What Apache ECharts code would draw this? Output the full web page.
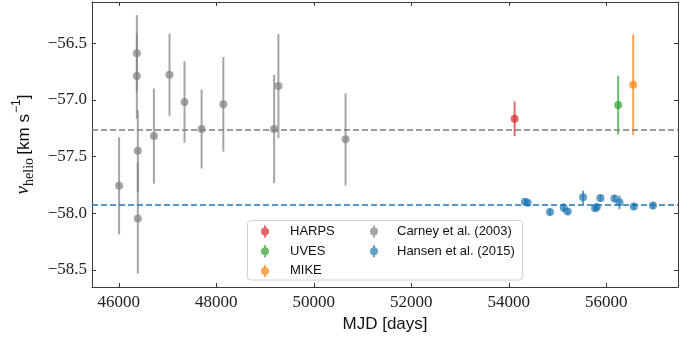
<!DOCTYPE html>
<html>
<head>
<meta charset="utf-8">
<script src="https://cdn.jsdelivr.net/npm/echarts@6/dist/echarts.min.js"></script>
<style>html,body{margin:0;padding:0;background:#fff}#c{width:697px;height:338px}</style>
</head>
<body>
<div id="c"></div>
<script>
// ---- data ----
const xTicks = [46000, 48000, 50000, 52000, 54000, 56000];
const yTicks = [-58.5, -58.0, -57.5, -57.0, -56.5];

const carneyMJD = [46006, 46370, 46370, 46390, 46390, 46720, 47040, 47348, 47698, 48144, 49186, 49274, 50651];
const carneyV   = [-57.757, -56.588, -56.789, -57.448, -58.045, -57.318, -56.777, -57.018, -57.256, -57.038, -57.256, -56.877, -57.347];
const carneyErr = [0.428, 0.338, 0.375, 0.359, 0.488, 0.419, 0.362, 0.359, 0.349, 0.417, 0.477, 0.459, 0.406];

const hansenMJD = [54331, 54386, 54844, 55126, 55208, 55523, 55770, 55805, 55879, 56167, 56269, 56565, 56956];
const hansenV   = [-57.898, -57.907, -57.989, -57.951, -57.983, -57.859, -57.954, -57.945, -57.865, -57.868, -57.903, -57.939, -57.930];
const hansenErr = [0.03, 0.03, 0.03, 0.04, 0.03, 0.06, 0.03, 0.03, 0.03, 0.03, 0.06, 0.03, 0.03];

const harpsMJD = [54119], harpsV = [-57.165], harpsErr = [0.152];
const uvesMJD  = [56243], uvesV  = [-57.045], uvesErr  = [0.259];
const mikeMJD  = [56551], mikeV  = [-56.865], mikeErr  = [0.444];

const carneyMean = -57.256;
const hansenMean = -57.918;

// ---- helpers ----
function pts(xs, ys, es) { return xs.map((x, i) => [x, ys[i], es[i]]); }
const C = { harps: '#d62728', uves: '#2ca02c', mike: '#ff7f0e', carney: '#7f7f7f', hansen: '#1f77b4' };

function errSeries(name, data, color) {
  return {
    name: name + '_err', type: 'custom', data: data, encode: { x: 0, y: 1 }, z: 2,
    renderItem: function (params, api) {
      const x = api.value(0), y = api.value(1), e = api.value(2);
      const p1 = api.coord([x, y + e]), p2 = api.coord([x, y - e]);
      return { type: 'line', shape: { x1: p1[0], y1: p1[1], x2: p2[0], y2: p2[1] },
        style: { stroke: color, lineWidth: 2, opacity: 0.7 } };
    }
  };
}
function scatSeries(name, data, color, extra) {
  return Object.assign({
    name: name, type: 'scatter', data: data.map(d => [d[0], d[1]]), symbolSize: 8, z: 3,
    itemStyle: { color: color, opacity: 0.7 }
  }, extra || {});
}
function mark(val, color) {
  return { silent: true, symbol: 'none', label: { show: false },
    lineStyle: { color: color, type: [6, 3], width: 1.6, opacity: 1 }, data: [{ yAxis: val }] };
}

const dHarps = pts(harpsMJD, harpsV, harpsErr);
const dUves = pts(uvesMJD, uvesV, uvesErr);
const dMike = pts(mikeMJD, mikeV, mikeErr);
const dCarney = pts(carneyMJD, carneyV, carneyErr);
const dHansen = pts(hansenMJD, hansenV, hansenErr);

const icon = 'path://M4,0 L6,0 L6,12 L4,12 Z M1,6 A4,4 0 1,1 9,6 A4,4 0 1,1 1,6 Z';
const axisColor = '#3a3a3a';
const serif = 'Liberation Serif';
const sans = 'Liberation Sans';

function xAx(pos, labels) {
  return {
    type: 'value', position: pos, min: 45450, max: 57470,
    axisLine: { show: true, onZero: false, lineStyle: { color: axisColor, width: 1 } },
    axisTick: { show: true, inside: true, length: 4, customValues: xTicks, lineStyle: { color: axisColor } },
    axisLabel: { show: labels, customValues: xTicks, margin: 7, fontFamily: serif, fontSize: 17, color: '#222',
      formatter: v => String(Math.round(v)) },
    splitLine: { show: false }
  };
}
function yAx(pos, labels) {
  return {
    type: 'value', position: pos, min: -58.65, max: -56.135,
    axisLine: { show: true, onZero: false, lineStyle: { color: axisColor, width: 1 } },
    axisTick: { show: true, inside: true, length: 4, customValues: yTicks, lineStyle: { color: axisColor } },
    axisLabel: { show: labels, customValues: yTicks, margin: 5, fontFamily: serif, fontSize: 17, color: '#222',
      formatter: v => (v < 0 ? '\u2212' : '') + Math.abs(v).toFixed(1) },
    splitLine: { show: false }
  };
}

const xMain = xAx('bottom', true);
xMain.name = 'MJD [days]';
xMain.nameLocation = 'middle';
xMain.nameGap = 24;
xMain.nameTextStyle = { fontFamily: sans, fontSize: 17, color: '#111' };

const yMain = yAx('left', true);
yMain.name = '{v|v}{sub|helio} {u|[km s}{sup|\u22121}{u|]}';
yMain.nameLocation = 'middle';
yMain.nameGap = 56;
yMain.nameRotate = 90;
yMain.nameTextStyle = {
  color: '#111',
  rich: {
    v: { fontFamily: serif, fontStyle: 'italic', fontSize: 19, color: '#111', lineHeight: 22, verticalAlign: 'bottom' },
    sub: { fontFamily: serif, fontSize: 14, color: '#111', lineHeight: 22, verticalAlign: 'bottom', padding: [0, 0, -4, 0] },
    u: { fontFamily: sans, fontSize: 17, color: '#111', lineHeight: 22, verticalAlign: 'bottom' },
    sup: { fontFamily: sans, fontSize: 12, color: '#111', lineHeight: 22, verticalAlign: 'top', padding: [0, 0, 4, 1] }
  }
};

function legendOf(names, left, pad) {
  return {
    orient: 'vertical', left: left, top: 225, padding: 0, itemWidth: 10, itemHeight: 12, itemGap: 6.7, z: 10,
    selectedMode: false,
    textStyle: { fontFamily: sans, fontSize: 13, color: '#111', lineHeight: 12, padding: [0, 0, 0, pad] },
    data: names.map(n => ({ name: n, icon: icon, itemStyle: { opacity: 0.7 } }))
  };
}

const option = {
  animation: false,
  backgroundColor: '#fff',
  grid: { left: 92, right: 19, top: 2, bottom: 51, containLabel: false },
  xAxis: [xMain, xAx('top', false)],
  yAxis: [yMain, yAx('right', false)],
  legend: [
    legendOf(['HARPS', 'UVES', 'MIKE'], 261, 15),
    legendOf(['Carney et al. (2003)', 'Hansen et al. (2015)'], 370, 13)
  ],
  graphic: [{
    type: 'rect', z: 8, shape: { x: 247.5, y: 220.5, width: 275, height: 59.5, r: 3 },
    style: { fill: 'rgba(255,255,255,0.8)', stroke: '#d0d0d0', lineWidth: 1 }
  }],
  series: [
    errSeries('Carney et al. (2003)', dCarney, C.carney),
    scatSeries('Carney et al. (2003)', dCarney, C.carney, { markLine: mark(carneyMean, '#7f7f7f') }),
    errSeries('Hansen et al. (2015)', dHansen, C.hansen),
    scatSeries('Hansen et al. (2015)', dHansen, C.hansen, { markLine: mark(hansenMean, '#1f77b4') }),
    errSeries('HARPS', dHarps, C.harps),
    scatSeries('HARPS', dHarps, C.harps),
    errSeries('UVES', dUves, C.uves),
    scatSeries('UVES', dUves, C.uves),
    errSeries('MIKE', dMike, C.mike),
    scatSeries('MIKE', dMike, C.mike)
  ]
};

const chart = echarts.init(document.getElementById('c'), null, { renderer: 'canvas' });
chart.setOption(option);
</script>
</body>
</html>
